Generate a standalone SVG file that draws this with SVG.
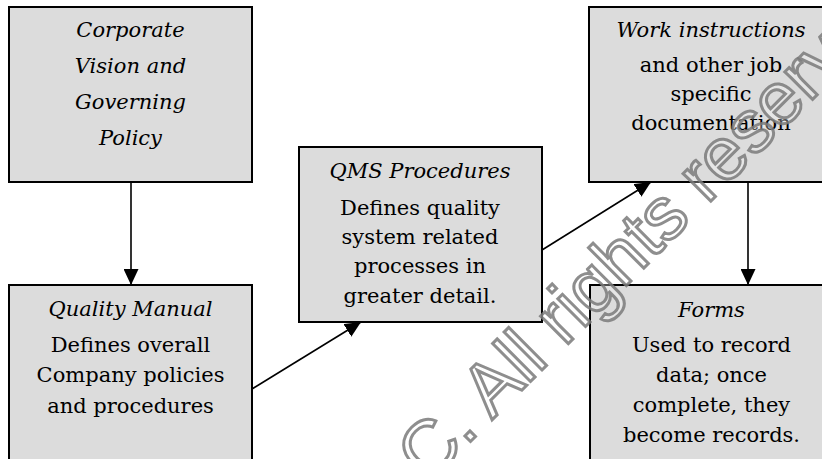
<svg xmlns="http://www.w3.org/2000/svg" width="822" height="459" viewBox="0 0 822 459">
<style>
.box{fill:#dcdcdc;stroke:#000;stroke-width:2}
.t{font-family:'DejaVu Serif','Liberation Serif',serif;font-size:21px;fill:#000;text-anchor:middle}
.i{font-style:italic}
.c{stroke:#000;stroke-width:1.6;fill:none}
.wm{font-family:'Liberation Sans',Arial,sans-serif;font-size:74px;fill:#fff;fill-opacity:0.3;stroke:#7a7a7a;stroke-width:3;stroke-opacity:0.85}
</style>
<defs>
<marker id="ah" markerUnits="userSpaceOnUse" markerWidth="16" markerHeight="15" refX="16" refY="7.5" orient="auto">
<path d="M0,0 L16,7.5 L0,15 z" fill="#000"/>
</marker>
</defs>
<rect width="822" height="459" fill="#fff"/>
<g id="n1">
<rect class="box" x="9" y="7" width="243" height="175"/>
<text class="t i" x="130.5" y="37">Corporate</text>
<text class="t i" x="130.5" y="73">Vision and</text>
<text class="t i" x="130.5" y="109">Governing</text>
<text class="t i" x="130.5" y="145">Policy</text>
</g>
<g id="n2">
<rect class="box" x="9" y="285" width="243" height="200"/>
<text class="t i" x="130.5" y="316">Quality Manual</text>
<text class="t" x="130.5" y="352">Defines overall</text>
<text class="t" x="130.5" y="382">Company policies</text>
<text class="t" x="130.5" y="413">and procedures</text>
</g>
<g id="n3">
<rect class="box" x="299" y="147" width="243" height="175"/>
<text class="t i" x="420" y="178">QMS Procedures</text>
<text class="t" x="420" y="215">Defines quality</text>
<text class="t" x="420" y="244">system related</text>
<text class="t" x="420" y="273">processes in</text>
<text class="t" x="420" y="303">greater detail.</text>
</g>
<g id="n4">
<rect class="box" x="589" y="7" width="243" height="175"/>
<text class="t i" x="711" y="37">Work instructions</text>
<text class="t" x="711" y="72">and other job</text>
<text class="t" x="711" y="101">specific</text>
<text class="t" x="711" y="130">documentation</text>
</g>
<g id="n5">
<rect class="box" x="590" y="285" width="243" height="200"/>
<text class="t i" x="711.5" y="317">Forms</text>
<text class="t" x="711.5" y="352">Used to record</text>
<text class="t" x="711.5" y="382">data; once</text>
<text class="t" x="711.5" y="412">complete, they</text>
<text class="t" x="711.5" y="442">become records.</text>
</g>
<g id="connectors">
<line class="c" x1="131" y1="182" x2="131" y2="285" marker-end="url(#ah)"/>
<line class="c" x1="252" y1="389" x2="361" y2="322" marker-end="url(#ah)"/>
<line class="c" x1="542" y1="250" x2="651" y2="182" marker-end="url(#ah)"/>
<line class="c" x1="748" y1="182" x2="748" y2="285" marker-end="url(#ah)"/>
</g>
<text class="wm" transform="translate(428 484) rotate(-45)">C. All rights reserv</text>
</svg>
